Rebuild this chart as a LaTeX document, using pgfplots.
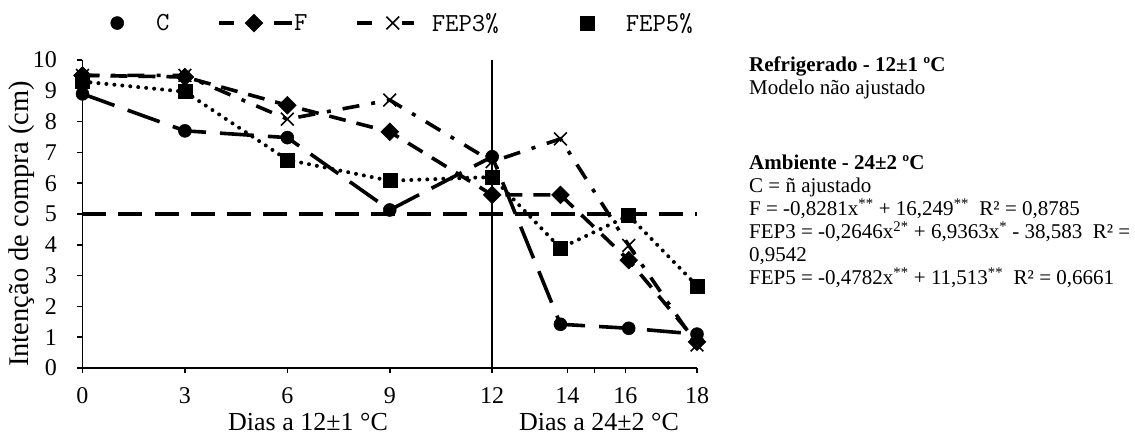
\documentclass[border=0pt]{standalone}
\usepackage{pgfplots}
\pgfplotsset{compat=1.18}
\usepackage{fontspec}
\setmainfont{Liberation Serif}
\begin{document}
\begin{tikzpicture}[x=1pt,y=1pt]
\useasboundingbox (0,0) rectangle (1135,434);
\begin{axis}[
  at={(82.5pt,66pt)}, anchor=south west,
  scale only axis, width=614.5pt, height=308pt,
  xmin=0, xmax=18, ymin=0, ymax=10,
  axis lines=left, axis line style={-, line width=1.5pt, black},
  clip=false,
  tick align=outside, major tick length=5pt,
  tick style={line width=1.5pt, black},
  xtick={0,3,6,9,12,14.2,15,15.9,18},
  xticklabels={0,3,6,9,12,14,,16,18},
  ytick={0,1,...,10},
  /pgf/number format/assume math mode=true,
  tick label style={font=\fontsize{24}{24}\selectfont},
  xticklabel style={yshift=-11pt},
  yticklabel style={xshift=-17pt},
  ylabel={Intenção de compra (cm)},
  ylabel style={font=\fontsize{28.5}{28.5}\selectfont, at={(axis description cs:-0.0985,0.4675)}, anchor=center},
  legend columns=4,
  legend style={at={(0.0285,1.12)}, anchor=west, draw=none, fill=none,
    column sep=0pt, row sep=0pt, inner sep=0pt,
    nodes={inner sep=0pt}, font=\ttfamily\fontsize{26}{26}\selectfont},
  legend cell align=left,
]
% reference lines
\addplot[forget plot, black, line width=1.5pt] coordinates {(12,0) (12,10)};
\addplot[forget plot, black, line width=4pt, dash pattern=on 24pt off 12pt] coordinates {(0,5) (18,5)};
% C
\addplot[black, line width=3.6pt, dash pattern=on 34pt off 14pt, mark=*, mark size=6.5pt,
  mark options={solid, line width=0.5pt},
  legend image code/.code={\path[draw=none,fill=none] (0pt,-9pt) rectangle (56pt,9pt); \draw plot coordinates {(17pt,0pt)};}]
  coordinates {(0,8.9) (3,7.7) (6,7.48) (9,5.13) (12,6.86) (14,1.42) (16,1.29) (18,1.1)};
\addlegendentry{\makebox[61pt][l]{C}}
% F
\addplot[black, line width=3.6pt, dash pattern=on 17pt off 11pt, mark=square*, mark size=6.3pt,
  mark options={solid, rotate=45, line width=0.5pt},
  legend image code/.code={\path[draw=none,fill=none] (0pt,-9pt) rectangle (75pt,9pt); \draw[solid] (0pt,0pt) -- (15pt,0pt); \draw[solid] (55pt,0pt) -- (73pt,0pt); \draw plot coordinates {(35pt,0pt)};}]
  coordinates {(0,9.5) (3,9.45) (6,8.53) (9,7.67) (12,5.62) (14,5.62) (16,3.5) (18,0.85)};
\addlegendentry{\makebox[61pt][l]{F}}
% FEP3
\addplot[black, line width=3.6pt, dash pattern=on 17pt off 12pt on 4pt off 12pt, mark=x, mark size=9pt,
  mark options={solid, line width=1.6pt},
  legend image code/.code={\path[draw=none,fill=none] (0pt,-9pt) rectangle (75pt,9pt); \draw[solid] (0pt,0pt) -- (15pt,0pt); \draw[solid] (45pt,0pt) -- (57pt,0pt); \draw plot coordinates {(36pt,0pt)};}]
  coordinates {(0,9.5) (3,9.5) (6,8.08) (9,8.7) (12,6.7) (14,7.44) (16,3.98) (18,0.75)};
\addlegendentry{\makebox[138pt][l]{FEP3\%}}
% FEP5
\addplot[black, line width=4pt, line cap=round, dash pattern=on 0pt off 8pt, mark=square*, mark size=7pt,
  mark options={solid, line width=0.5pt},
  legend image code/.code={\path[draw=none,fill=none] (0pt,-9pt) rectangle (56pt,9pt); \draw plot coordinates {(17pt,0pt)};}]
  coordinates {(0,9.3) (3,8.97) (6,6.76) (9,6.08) (12,6.2) (14,3.89) (16,4.95) (18,2.67)};
\addlegendentry{FEP5\%}
\end{axis}
% x-axis titles
\node[font=\fontsize{26}{26}\selectfont, anchor=center] at (308,12) {Dias a 12±1 °C};
\node[font=\fontsize{26}{26}\selectfont, anchor=center] at (599,12) {Dias a 24±2 °C};
% annotations
\begin{scope}[every node/.style={anchor=base west, inner sep=0pt, font=\fontsize{21}{23.3}\selectfont}]
\node at (749,362) {\textbf{Refrigerado - 12±1 ºC}};
\node at (749,339) {Modelo não ajustado};
\node at (749,264) {\textbf{Ambiente - 24±2 ºC}};
\node at (749,241) {C = ñ ajustado};
\node at (749,218) {F = -0,8281x\textsuperscript{**} + 16,249\textsuperscript{**}\ \ R² = 0,8785};
\node at (749,195) {FEP3 = -0,2646x\textsuperscript{2*} + 6,9363x\textsuperscript{*} - 38,583\ \ R² =};
\node at (749,172) {0,9542};
\node at (749,149) {FEP5 = -0,4782x\textsuperscript{**} + 11,513\textsuperscript{**}\ \ R² = 0,6661};
\end{scope}
\end{tikzpicture}
\end{document}
